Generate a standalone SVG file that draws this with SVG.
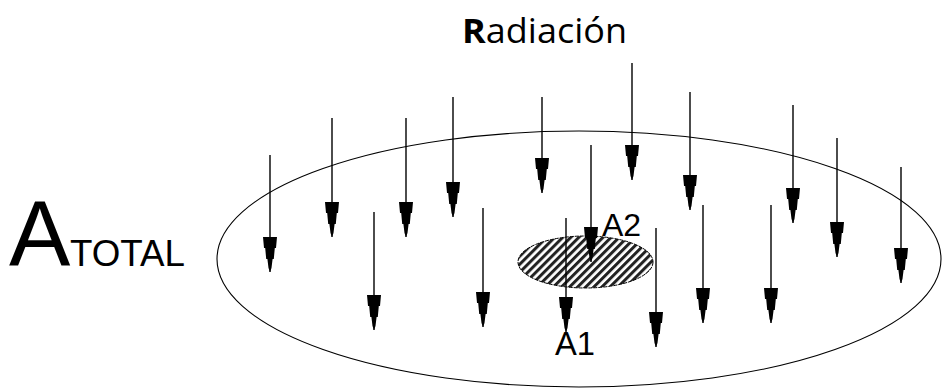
<svg xmlns="http://www.w3.org/2000/svg" width="942" height="388" viewBox="0 0 942 388">
<style>
.ray{stroke:#000;stroke-width:1.4;fill:none;marker-end:url(#head)}
.lbl{font-family:"Liberation Sans",Arial,sans-serif;fill:#000}
</style>
<defs>
<marker id="head" markerUnits="userSpaceOnUse" viewBox="-36 -8 40 16" refX="0" refY="0" markerWidth="40" markerHeight="16" orient="auto" overflow="visible">
<path d="M0,0 L-4,-1.5 L-13,-2.6 L-13,-3.8 L-24,-4.8 L-24,-6 L-35,-7 L-35,7 L-24,6 L-24,4.8 L-13,3.8 L-13,2.6 L-4,1.5 Z" fill="#000"/>
</marker>
<pattern id="hatch" patternUnits="userSpaceOnUse" width="5.7" height="10" patternTransform="rotate(45)">
<rect width="5.7" height="10" fill="#fff"/>
<rect width="3" height="10" fill="#222"/>
</pattern>
</defs>
<rect width="942" height="388" fill="#fff"/>
<g id="total-area">
<ellipse cx="579" cy="259" rx="362" ry="128" fill="none" stroke="#000" stroke-width="1.1"/>
</g>
<g id="area-a2">
<ellipse cx="585.5" cy="262" rx="67.5" ry="26" fill="url(#hatch)" stroke="#000" stroke-width="1" stroke-dasharray="4 1"/>
</g>
<g id="rays">
<line class="ray" x1="270" y1="155" x2="270" y2="272"/>
<line class="ray" x1="332" y1="118" x2="332" y2="237"/>
<line class="ray" x1="374" y1="212" x2="374" y2="330"/>
<line class="ray" x1="406" y1="118" x2="406" y2="237"/>
<line class="ray" x1="453" y1="97" x2="453" y2="217"/>
<line class="ray" x1="483" y1="208" x2="483" y2="327"/>
<line class="ray" x1="542" y1="97" x2="542" y2="193"/>
<line class="ray" x1="566" y1="218" x2="566" y2="332"/>
<line class="ray" x1="591" y1="145" x2="591" y2="262"/>
<line class="ray" x1="632" y1="63" x2="632" y2="180"/>
<line class="ray" x1="656" y1="228" x2="656" y2="347"/>
<line class="ray" x1="690" y1="92" x2="690" y2="210"/>
<line class="ray" x1="703" y1="205" x2="703" y2="323"/>
<line class="ray" x1="771" y1="205" x2="771" y2="323"/>
<line class="ray" x1="793" y1="105" x2="793" y2="223"/>
<line class="ray" x1="837" y1="138" x2="837" y2="257"/>
<line class="ray" x1="901" y1="167" x2="901" y2="283"/>
</g>
<g id="label-radiacion">
<text x="462" y="43" font-family="'Open Sans','Noto Sans',sans-serif" font-size="34" fill="#000" textLength="165" lengthAdjust="spacingAndGlyphs"><tspan font-weight="bold">R</tspan>adiación</text>
</g>
<g id="label-atotal">
<text class="lbl" x="9" y="266" font-size="92">A</text>
<text class="lbl" x="70" y="266" font-size="36" textLength="115" lengthAdjust="spacingAndGlyphs">TOTAL</text>
</g>
<g id="label-a2">
<text class="lbl" x="602" y="236" font-size="32">A2</text>
</g>
<g id="label-a1">
<text class="lbl" x="555" y="355" font-size="34" textLength="40" lengthAdjust="spacingAndGlyphs">A1</text>
</g>
</svg>
